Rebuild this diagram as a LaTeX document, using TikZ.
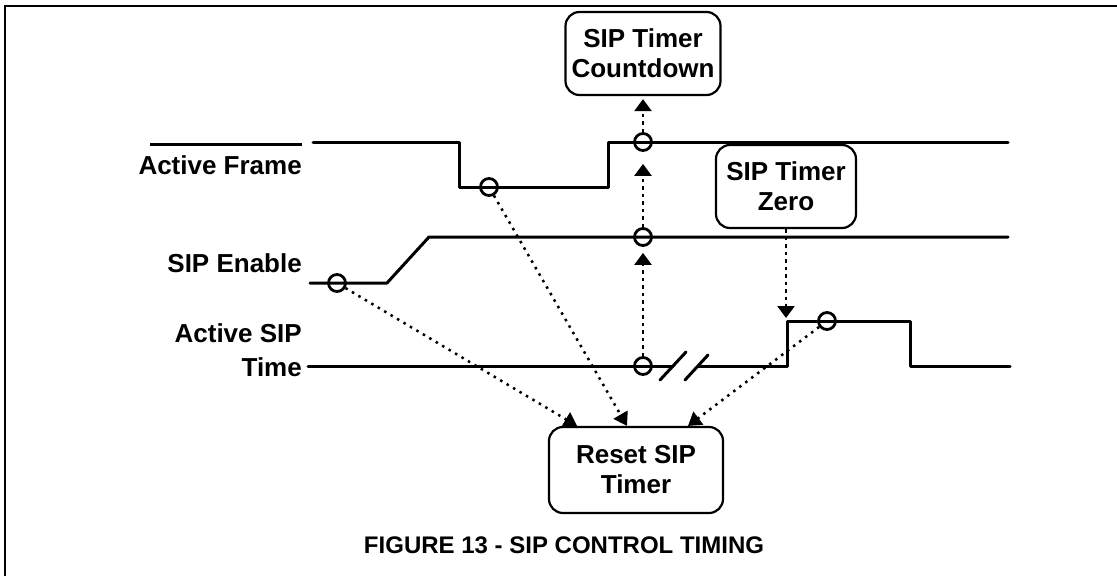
\documentclass[tikz,border=0pt]{standalone}
\usepackage{fontspec}
\setmainfont{Liberation Sans}
\usetikzlibrary{arrows.meta,calc}
\begin{document}
\begin{tikzpicture}[x=1pt,y=-1pt,
  sig/.style={line width=3pt, line cap=round, line join=round},
  lbl/.style={font=\fontsize{26}{34}\selectfont\bfseries, inner sep=0pt},
  box/.style={draw, line width=2.2pt, rounded corners=14pt, align=center,
    font=\fontsize{26}{30}\selectfont\bfseries, inner sep=0pt},
  circ/.style={circle, draw, line width=2.8pt, minimum size=17pt, inner sep=0pt},
  vdot/.style={line width=2.5pt, dash pattern=on 3.5pt off 4pt, -{Triangle[length=12pt,width=17pt]}},
  ddot/.style={line width=2.5pt, dash pattern=on 2.5pt off 5pt, -{Triangle[length=13pt,width=16pt]}}
]
\useasboundingbox (0,0) rectangle (1117,576);
% frame
\draw[line width=2.5pt] (5,576) -- (5,6) -- (1117,6);

% labels
\node[lbl, anchor=base east] (lAF) at (302,174) {Active Frame};
\draw[line width=3pt] (150,144) -- (302,144);
\node[lbl, anchor=base east] (lSE) at (302,272) {SIP Enable};
\node[lbl, anchor=base east, align=right] (lAST) at (302,376) {Active SIP\\Time};

% signals
\draw[sig] (313,142) -- (459,142) -- (459,187) -- (608,187) -- (608,142) -- (1008,142);
\draw[sig] (310,283) -- (387,283) -- (429,237) -- (1008,237);
\draw[sig] (308,366) -- (673,366);
\draw[sig] (698,366) -- (787,366) -- (787,321) -- (910,321) -- (910,366) -- (1010,366);
\draw[sig] (660,380) -- (686,352);
\draw[sig] (685,380) -- (708,355);

% event circles
\node[circ] (c1) at (489,187) {};
\node[circ] (c2) at (643,142) {};
\node[circ] (c3) at (337,283) {};
\node[circ] (c4) at (643,237) {};
\node[circ] (c5) at (643,366) {};
\node[circ] (c6) at (827,321) {};

% boxes
\node[box, minimum width=155pt, minimum height=83pt] (cd) at (643,53.5) {SIP Timer\\Countdown};
\node[box, minimum width=140pt, minimum height=83pt] (zero) at (786,186.5) {SIP Timer\\Zero};
\node[box, minimum width=174pt, minimum height=86pt] (reset) at (636,470) {Reset SIP\\Timer};

% vertical dependencies
\draw[vdot, shorten >=6pt] (c5) -- (c4);
\draw[vdot, shorten >=12pt] (c4) -- (c2);
\draw[vdot, shorten >=3pt] (c2) -- (c2 |- cd.south);
\coordinate (zt) at (786,318);
\draw[vdot] (zero.south) -- (zt);

% reset triggers
\coordinate (r1) at ([xshift=-59pt]reset.north);
\coordinate (r2) at ([xshift=-9pt]reset.north);
\coordinate (r3) at ([xshift=52pt]reset.north);
\draw[ddot] (c3) -- (r1);
\draw[ddot] (c1) -- (r2);
\draw[ddot] (c6) -- (r3);

% caption
\node[font=\fontsize{24}{28}\selectfont\bfseries, anchor=base, inner sep=0pt] (cap) at (564,553) {FIGURE 13 - SIP CONTROL TIMING};
\end{tikzpicture}
\end{document}
